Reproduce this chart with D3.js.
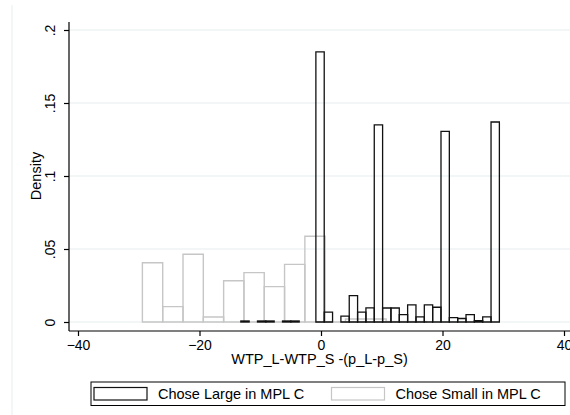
<!DOCTYPE html>
<html>
<head>
<meta charset="utf-8">
<script src="https://cdn.jsdelivr.net/npm/d3@7"></script>
<style>
  body { margin: 0; background: #fff; }
  svg { display: block; font-family: "Liberation Sans", Arial, Helvetica, sans-serif; }
</style>
</head>
<body>
<svg id="chart" width="570" height="415"></svg>
<script>
'use strict';

// histogram of chose-large (black) and chose-small (grey)
var largeStart = -13.2,
    largeWidth = 1.373,
    largeDensity = [0.0007, 0, 0.0007, 0.0007, 0, 0.0007, 0.0007, 0, 0,
      0.185, 0.0068, 0, 0.004, 0.018, 0.0068, 0.0097, 0.135, 0.0096, 0.0096,
      0.005, 0.0117, 0.0035, 0.0117, 0.0101, 0.1305, 0.003, 0.0024, 0.005,
      0.001, 0.0035, 0.137];

var smallStart = -29.4,
    smallWidth = 3.343,
    smallDensity = [0.0406, 0.0105, 0.0464, 0.0034, 0.0283, 0.0338, 0.0242,
      0.0395, 0.0587, 0, 0.0021, 0.0021, 0.0003, 0.0003];

var xTicks = [-40, -20, 0, 20, 40],
    yTicks = [0, 0.05, 0.1, 0.15, 0.2],
    legendLabels = ['Chose Large in MPL C', 'Chose Small in MPL C'];

var svg = d3.select('#chart'),
    x = d3.scaleLinear().domain([-40, 40]).range([78, 564]),
    y = d3.scaleLinear().domain([0, 0.2]).range([322, 30]),
    axisX = 69,
    axisY = 331;

// faint graph region border
svg.append('line').attr('x1', 12).attr('x2', 12).attr('y1', 5).attr('y2', 415)
  .attr('stroke', '#e8edef').attr('stroke-width', 1);

// gridlines
svg.append('g').selectAll('line').data(yTicks).enter().append('line')
  .attr('x1', axisX).attr('x2', 570)
  .attr('y1', function (d) { return y(d); }).attr('y2', function (d) { return y(d); })
  .attr('stroke', '#e6eef0').attr('stroke-width', 1.2);

function toBins(start, width, dens) {
  return dens.map(function (d, i) {
    return { x0: start + i * width, x1: start + (i + 1) * width, d: d };
  });
}

function barPath(b) {
  var x0 = x(b.x0), x1 = x(b.x1), y0 = y(0), y1 = y(b.d);
  return 'M' + x0 + ',' + y0 + 'V' + y1 + 'H' + x1 + 'V' + y0 + 'Z';
}

svg.append('g').selectAll('path')
  .data(toBins(smallStart, smallWidth, smallDensity))
  .enter().append('path')
  .attr('d', barPath)
  .attr('fill', 'none').attr('stroke', '#c6c6c6').attr('stroke-width', 1.4);

svg.append('g').selectAll('path')
  .data(toBins(largeStart, largeWidth, largeDensity).filter(function (b) { return b.d > 0; }))
  .enter().append('path')
  .attr('d', barPath)
  .attr('fill', 'none').attr('stroke', '#111').attr('stroke-width', 1.3);

// y axis
var gy = svg.append('g').attr('transform', 'translate(' + axisX + ',0)')
  .call(d3.axisLeft(y).tickValues(yTicks).tickSize(5).tickSizeOuter(0)
    .tickFormat(function (d) { return d === 0 ? '0' : String(d).replace(/^0/, ''); }));
gy.select('.domain').remove();
gy.append('line').attr('x1', 0).attr('x2', 0).attr('y1', 22).attr('y2', axisY)
  .attr('stroke', '#000').attr('stroke-width', 1.2);
gy.selectAll('.tick line').attr('stroke', '#000').attr('stroke-width', 1.2);
gy.selectAll('.tick text')
  .attr('transform', 'rotate(-90)')
  .attr('x', 0).attr('y', -14.5).attr('dy', 0)
  .attr('text-anchor', 'middle')
  .attr('fill', '#000').style('font-size', '14px');

// x axis
var gx = svg.append('g').attr('transform', 'translate(0,' + axisY + ')')
  .call(d3.axisBottom(x).tickValues(xTicks).tickSize(5).tickSizeOuter(0));
gx.select('.domain').remove();
gx.append('line').attr('x1', axisX).attr('x2', 570).attr('y1', 0).attr('y2', 0)
  .attr('stroke', '#000').attr('stroke-width', 1.2);
gx.selectAll('.tick line').attr('stroke', '#000').attr('stroke-width', 1.2);
gx.selectAll('.tick text')
  .attr('y', 19).attr('dy', 0)
  .attr('fill', '#000').style('font-size', '14px');

// axis titles
svg.append('text')
  .attr('transform', 'translate(41,176) rotate(-90)')
  .attr('text-anchor', 'middle').style('font-size', '14.5px')
  .text('Density');

svg.append('text')
  .attr('x', 319.5).attr('y', 364)
  .attr('text-anchor', 'middle').style('font-size', '14.5px')
  .text('WTP_L-WTP_S -(p_L-p_S)');

// legend
var legend = svg.append('g');
legend.append('rect').attr('x', 91).attr('y', 382).attr('width', 474).attr('height', 23.5)
  .attr('fill', '#fff').attr('stroke', '#000').attr('stroke-width', 1);

var keyX = [94, 331.5],
    keyColor = ['#111', '#c6c6c6'];
legendLabels.forEach(function (lab, i) {
  legend.append('rect').attr('x', keyX[i]).attr('y', 387.5).attr('width', 53).attr('height', 12.5)
    .attr('fill', 'none').attr('stroke', keyColor[i]).attr('stroke-width', 1.2);
  legend.append('text').attr('x', keyX[i] + 64).attr('y', 398.5)
    .style('font-size', '14.5px').text(lab);
});
</script>
</body>
</html>
